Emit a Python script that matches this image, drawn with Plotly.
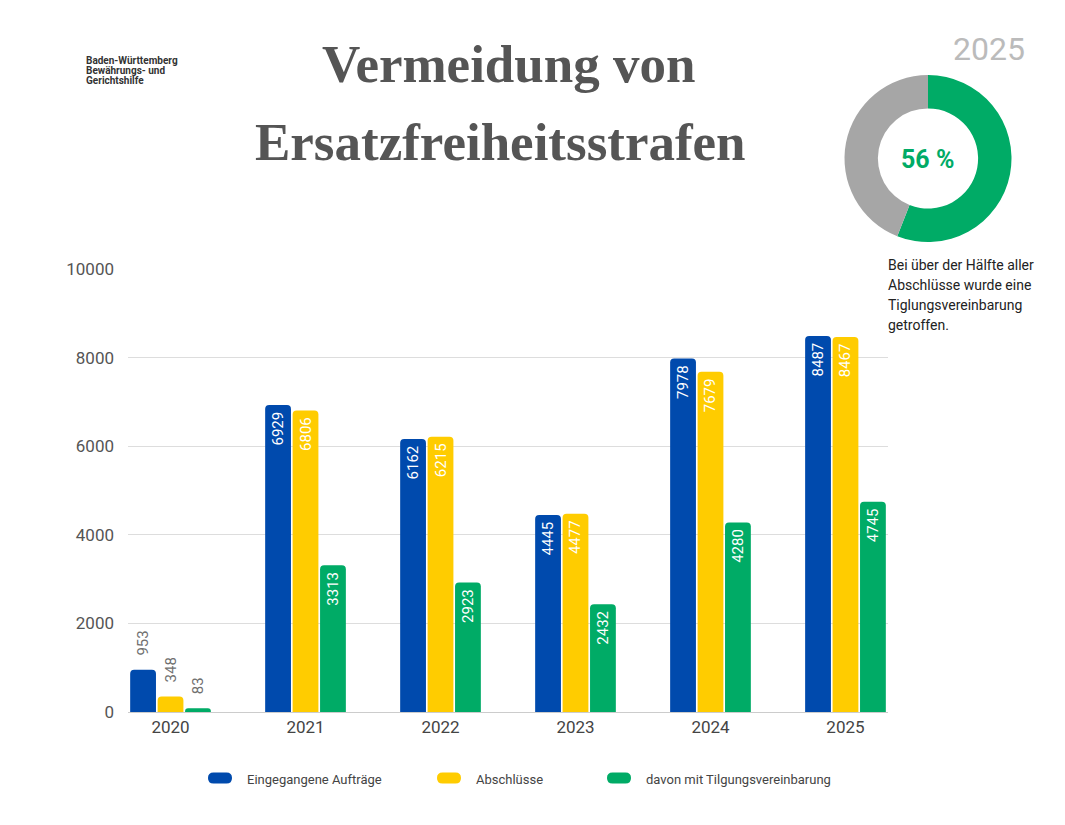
import plotly.graph_objects as go

years = ["2020", "2021", "2022", "2023", "2024", "2025"]
eingegangen = [953, 6929, 6162, 4445, 7978, 8487]
abschluesse = [348, 6806, 6215, 4477, 7679, 8467]
tilgung = [83, 3313, 2923, 2432, 4280, 4745]
series_names = ["Eingegangene Aufträge", "Abschlüsse", "davon mit Tilgungsvereinbarung"]
colors = ["#004AAD", "#FFCC00", "#00AB66"]

donut_labels = ["mit Tilgungsvereinbarung", "ohne"]
donut_values = [56, 44]
donut_colors = ["#00AB66", "#A6A6A6"]

note_lines = ["Bei über der Hälfte aller", "Abschlüsse wurde eine", "Tiglungsvereinbarung", "getroffen."]
logo_lines = ["Baden-Württemberg", "Bewährungs- und", "Gerichtshilfe"]

W, H = 1065, 825
px_l, px_r, px_t, px_b = 128, 888, 269, 712


def px(x, y):
    return x / W, 1 - y / H


fig = go.Figure()
for name, vals, col in zip(series_names, [eingegangen, abschluesse, tilgung], colors):
    pos = ["outside" if v < 1000 else "inside" for v in vals]
    tcol = ["#707070" if v < 1000 else "#FFFFFF" for v in vals]
    txt = ["\u00a0\u00a0\u00a0" + str(v) if v < 1000 else str(v) + "\u00a0" for v in vals]
    fig.add_trace(go.Bar(
        x=years, y=vals, name=name, marker=dict(color=col, line=dict(width=0)),
        text=txt, textposition=pos, textangle=-90, constraintext="none",
        insidetextanchor="end", textfont=dict(color=tcol, size=15, family="Roboto"),
        cliponaxis=False, hoverinfo="skip", showlegend=False,
    ))

fig.add_trace(go.Pie(
    labels=donut_labels, values=donut_values, hole=0.6, sort=False,
    direction="clockwise", rotation=0, marker=dict(colors=donut_colors, line=dict(width=0)),
    textinfo="none", showlegend=False, hoverinfo="skip",
    domain=dict(x=[844 / W, 1012 / W], y=[1 - 242 / H, 1 - 75 / H]),
))

fig.update_layout(
    width=W, height=H, margin=dict(l=0, r=0, t=0, b=0, autoexpand=False),
    paper_bgcolor="white", plot_bgcolor="white",
    barmode="group", bargap=0.39, bargroupgap=0.06, barcornerradius=4,
    font=dict(family="Roboto", color="#444444"),
    xaxis=dict(domain=[px_l / W, px_r / W], range=[-0.315, 5.315], showgrid=False,
               showline=True, linecolor="#cccccc", linewidth=1, ticks="", automargin=False,
               tickfont=dict(size=17, color="#444444"), fixedrange=True),
    yaxis=dict(domain=[1 - px_b / H, 1 - px_t / H], range=[0, 10000], automargin=False,
               tickvals=[0, 2000, 4000, 6000, 8000, 10000], tickformat="d",
               showgrid=True, gridcolor="#dddddd", gridwidth=1, zeroline=False,
               tickfont=dict(size=17, color="#555555"), ticklabelstandoff=13, fixedrange=True),
    showlegend=False,
)

annots = [
    dict(text="<b>Vermeidung von</b>", pos=(509, 64), font=dict(family="Liberation Serif", size=53, color="#555555")),
    dict(text="<b>Ersatzfreiheitsstrafen</b>", pos=(500, 142), font=dict(family="Liberation Serif", size=53, color="#555555")),
    dict(text="2025", pos=(989, 49), font=dict(size=32, color="#BBBBBB")),
    dict(text="<b>56 %</b>", pos=(927, 159), font=dict(size=25, color="#00AB66")),
]
for i, line in enumerate(note_lines):
    annots.append(dict(text=line, pos=(886, 265 + 20 * i), xanchor="left",
                       font=dict(size=14, color="#222222")))
for i, line in enumerate(logo_lines):
    annots.append(dict(text="<b>" + line + "</b>", pos=(84, 60 + 10.5 * i), xanchor="left",
                       font=dict(size=10, color="#333333")))

# legend (rounded pills + labels)
legend_x = [208, 437, 607]
legend_y = 778


def P(x, y):
    a, b = px(x, y)
    return f"{a:.5f},{b:.5f}"


for (lx, name, col) in zip(legend_x, series_names, colors):
    w, h, r = 24, 11, 5.5
    x0, x1, y0, y1 = lx, lx + w, legend_y - h / 2, legend_y + h / 2
    path = (f"M {P(x0 + r, y0)} L {P(x1 - r, y0)} Q {P(x1, y0)} {P(x1, y0 + r)} "
            f"L {P(x1, y1 - r)} Q {P(x1, y1)} {P(x1 - r, y1)} L {P(x0 + r, y1)} "
            f"Q {P(x0, y1)} {P(x0, y1 - r)} L {P(x0, y0 + r)} Q {P(x0, y0)} {P(x0 + r, y0)} Z")
    fig.add_shape(type="path", path=path, xref="paper", yref="paper",
                  fillcolor=col, line=dict(width=0))
    annots.append(dict(text=name, pos=(lx + 37, legend_y + 1), xanchor="left",
                       font=dict(size=13, color="#444444")))

for a in annots:
    x, y = px(*a.pop("pos"))
    a.setdefault("xanchor", "center")
    a.setdefault("yanchor", "middle")
    fig.add_annotation(xref="paper", yref="paper", x=x, y=y, showarrow=False, **a)

fig.write_html("out.html", config={"displayModeBar": False})

with open("out.html", "r", encoding="utf-8") as f:
    html = f.read()
html = html.replace("<head>", "<head><style>html,body{margin:0;padding:0;overflow:hidden;}</style>", 1)
with open("out.html", "w", encoding="utf-8") as f:
    f.write(html)
